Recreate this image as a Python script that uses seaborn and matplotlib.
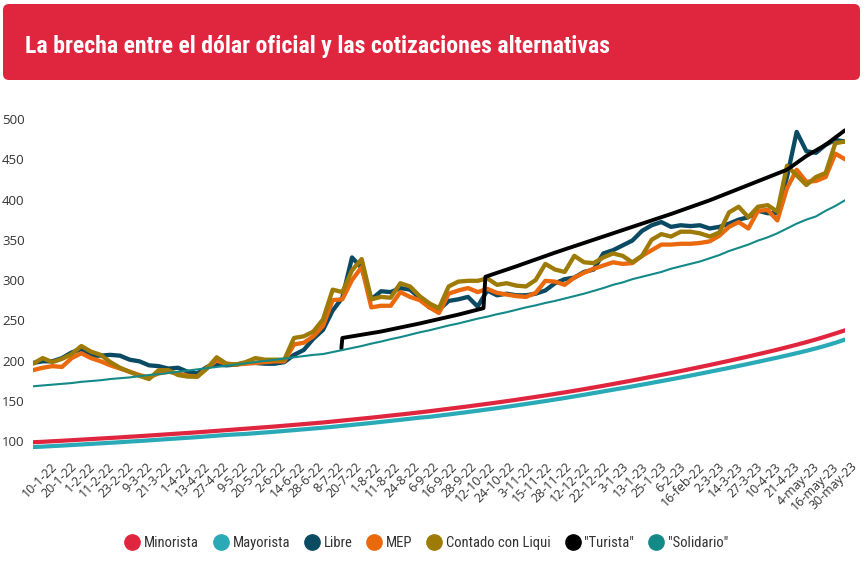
import numpy as np
import matplotlib
matplotlib.use('Agg')
import matplotlib.pyplot as plt
from matplotlib import font_manager
from matplotlib.lines import Line2D
from matplotlib.patches import FancyBboxPatch
from matplotlib.transforms import IdentityTransform, ScaledTranslation
import seaborn as sns

# etiquetas del eje x
fechas = ['10-1-22', '20-1-22', '1-2-22', '11-2-22', '23-2-22', '9-3-22', '21-3-22', '1-4-22',
          '13-4-22', '27-4-22', '9-5-22', '20-5-22', '2-6-22', '14-6-22', '28-6-22', '8-7-22',
          '20-7-22', '1-8-22', '11-8-22', '24-8-22', '6-9-22', '16-9-22', '28-9-22', '12-10-22',
          '24-10-22', '3-11-22', '15-11-22', '28-11-22', '12-12-22', '22-12-22', '3-1-23',
          '13-1-23', '25-1-23', '6-2-23', '16-feb-22', '2-3-23', '14-3-23', '27-3-23', '10-4-23',
          '21-4-23', '4-may-23', '16-may-23', '30-may-23']

minorista = [98.5, 99, 99.7, 100.3, 101, 101.7, 102.4, 103.1, 103.8, 104.5,
             105.3, 106, 106.8, 107.6, 108.4, 109.2, 110, 110.8, 111.7, 112.6,
             113.5, 114.4, 115.3, 116.2, 117.1, 118, 119, 120, 121, 122,
             123, 124.2, 125.4, 126.6, 127.8, 129, 130.3, 131.6, 132.9, 134.2,
             135.6, 137, 138.5, 140, 141.5, 143, 144.6, 146.2, 147.8, 149.5,
             151.2, 153, 154.8, 156.6, 158.5, 160.4, 162.4, 164.4, 166.5, 168.6,
             170.8, 173, 175.2, 177.5, 179.8, 182.1, 184.5, 186.9, 189.4, 191.9,
             194.4, 197, 199.6, 202.3, 205, 207.8, 210.6, 213.5, 216.5, 219.6,
             222.8, 226.2, 229.8, 233.6, 237.5]

mayorista = [92.5, 93, 93.7, 94.3, 95, 95.7, 96.4, 97.1, 97.8, 98.5,
             99.3, 100, 100.8, 101.6, 102.4, 103.2, 104, 104.8, 105.7, 106.6,
             107.5, 108.2, 108.8, 109.7, 110.6, 111.5, 112.5, 113.5, 114.5, 115.5,
             116.5, 117.6, 118.8, 120, 121.2, 122.4, 123.7, 125, 126.3, 127.6,
             129, 130, 131.5, 133, 134.5, 136, 137.6, 139.2, 140.8, 142.5,
             144.2, 146, 147.8, 149.6, 151.5, 153.4, 155.4, 157.4, 159.5, 161.6,
             163.7, 165.7, 167.8, 170, 172.2, 174.4, 176.6, 178.9, 181.2, 183.6,
             186, 188.4, 190.8, 193.3, 195.8, 198.4, 201, 203.6, 206.3, 209.1,
             212, 215.1, 218.4, 222, 226]

libre = [197, 199, 199, 203, 210, 214, 206, 206, 207, 206,
         201, 199, 194, 193, 190, 191, 186, 184, 192, 195,
         194, 195, 197, 197, 196, 196, 198, 207, 213, 227,
         238, 262, 278, 328, 315, 276, 286, 285, 290, 288,
         278, 266, 263, 274, 276, 279, 267, 287, 281, 283,
         281, 281, 283, 287, 296, 301, 303, 310, 313, 333,
         337, 343, 349, 361, 368, 372, 366, 368, 367, 368,
         364, 366, 370, 375, 378, 386, 383, 383, 428, 484,
         460, 458, 468, 474, 472]

mep = [188, 191, 193, 192, 203, 209, 203, 199, 194, 190,
       186, 182, 179, 184, 186, 184, 181, 180, 191, 200,
       196, 195, 196, 197, 198, 199, 199, 220, 222, 230,
       243, 275, 276, 300, 316, 266, 268, 268, 285, 279,
       275, 266, 259, 283, 287, 290, 285, 289, 284, 282,
       280, 279, 284, 299, 298, 294, 303, 309, 314, 318,
       322, 320, 321, 330, 337, 344, 344, 345, 345, 346,
       348, 355, 366, 372, 364, 386, 387, 374, 414, 437,
       422, 423, 428, 457, 450]

ccl = [196, 203, 198, 202, 208, 218, 211, 207, 198, 191,
       186, 181, 177, 188, 188, 182, 180, 180, 190, 204,
       196, 195, 198, 203, 201, 201, 201, 228, 230, 236,
       251, 288, 285, 312, 326, 276, 279, 278, 296, 292,
       280, 271, 265, 292, 298, 299, 299, 302, 294, 296,
       293, 292, 300, 320, 313, 310, 330, 322, 321, 328,
       333, 330, 322, 330, 350, 357, 354, 360, 360, 358,
       354, 359, 384, 391, 378, 391, 393, 385, 442, 430,
       418, 428, 433, 470, 472]

solidario = [168, 169, 170, 171, 172, 173.5, 174.5, 175.5, 177, 178,
             179, 180.5, 182, 183, 184.5, 186, 187.5, 189, 190.5, 192,
             193.5, 195, 196.5, 198, 199.5, 201, 202.5, 204, 205.5, 207,
             208, 210.5, 213, 215.5, 218, 221, 223.5, 226.5, 229, 232,
             235, 237.5, 240.5, 243.5, 246, 249, 252, 254.5, 257.5, 260,
             263, 266, 268.5, 271.5, 274, 277, 280, 283, 286.5, 290,
             294, 297, 301, 304, 307, 310, 314, 317, 320, 323,
             327, 331, 336, 340, 344, 349, 353, 358, 364, 370,
             375, 379, 386, 392, 399]

# el "Turista" empieza en julio 2022 y tiene un salto en octubre
turista_pos = [31.9, 32, 36, 40, 44, 46.6, 46.8, 50, 54, 58, 62, 66, 70, 74, 78, 80, 82, 84]
turista = [215, 228, 236, 246, 257, 265, 304, 317, 334, 350, 366, 382, 399, 418, 437, 454, 468, 486]

pos = np.arange(len(minorista))

# fuente condensada si existe
nombres = {f.name for f in font_manager.fontManager.ttflist}
cond = 'DejaVu Sans'
for cand in ['Liberation Sans Narrow', 'Roboto Condensed', 'DejaVu Sans Condensed', 'Open Sans Condensed']:
    if cand in nombres:
        cond = cand
        break

sns.set_style('white')
plt.rcParams['font.family'] = ['Open Sans', 'DejaVu Sans']

fig = plt.figure(figsize=(8.66, 5.69), dpi=100)
ax = fig.add_axes([33 / 866, 0.2108, 812 / 866, 0.5942])

series = [
    ('Minorista', pos, minorista, '#E0253E', 3.0),
    ('Mayorista', pos, mayorista, '#2AA9B7', 3.0),
    ('Libre', pos, libre, '#0B4A63', 3.1),
    ('MEP', pos, mep, '#EA690D', 3.1),
    ('Contado con Liqui', pos, ccl, '#9E7B06', 3.1),
    ('"Turista"', turista_pos, turista, '#000000', 2.8),
    ('"Solidario"', pos, solidario, '#138A87', 1.5),
]
for nombre, xs, ys, color, lw in series:
    sns.lineplot(x=xs, y=ys, ax=ax, color=color, linewidth=lw, legend=False,
                 estimator=None, sort=False)

ax.set_xlim(0, 84)
ax.set_ylim(90, 510)
ax.set_yticks(range(100, 501, 50))
ax.tick_params(axis='y', length=0, pad=6, labelsize=9.5, labelcolor='#333333')
# las etiquetas van un poco más juntas que los puntos (la serie sigue unos días después)
ax.set_xticks(np.arange(len(fechas)) * 1.97)
ax.set_xticklabels(fechas)
ax.tick_params(axis='x', length=0, pad=0, labelsize=9, labelcolor='#333333')
desplaz = ScaledTranslation(0.18, -0.11, fig.dpi_scale_trans)
for lbl in ax.get_xticklabels():
    lbl.set_rotation(45)
    lbl.set_ha('right')
    lbl.set_va('top')
    lbl.set_rotation_mode('anchor')
    lbl.set_transform(lbl.get_transform() + desplaz)
ax.set_xlabel('')
ax.set_ylabel('')
sns.despine(ax=ax, left=True, bottom=True)
ax.grid(False)

# banda roja del título
banda = FancyBboxPatch((3, 569 - 80), 857, 76, boxstyle='round,pad=0,rounding_size=6',
                       transform=IdentityTransform(), fc='#E0263F', ec='none')
fig.add_artist(banda)
titulo = fig.text(25 / 866, 1 - 47 / 569, 'La brecha entre el dólar oficial y las cotizaciones alternativas',
                  color='white', fontweight='bold', fontsize=16, va='center', ha='left',
                  family=[cond, 'DejaVu Sans'])
fig.canvas.draw()
ancho = titulo.get_window_extent().width
titulo.set_fontsize(16 * 583 / ancho)

# leyenda con círculos
handles = [Line2D([0], [0], marker='o', ls='', markersize=11, markerfacecolor=c, markeredgecolor=c)
           for _, _, _, c, _ in series]
fig.legend(handles, [s[0] for s in series], loc='center', bbox_to_anchor=(0.4925, 0.0457),
           ncol=7, frameon=False, handletextpad=0.3, columnspacing=1.0, handlelength=1.0,
           prop={'family': cond, 'size': 10.5}, labelcolor='#333333')

plt.savefig('out.png', dpi=100)
